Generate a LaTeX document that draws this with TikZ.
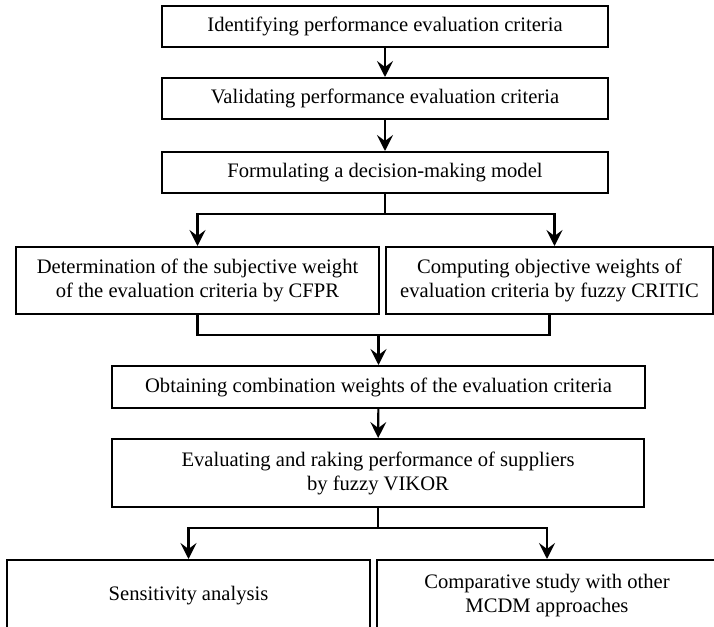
\documentclass[tikz,border=0pt]{standalone}
\usepackage{fontspec}
\setmainfont{Liberation Serif}
\usetikzlibrary{arrows.meta}

\begin{document}
\begin{tikzpicture}[
        x=0.5pt, y=-0.5pt,
        every node/.style={draw, line width=1pt, align=center, inner sep=0pt, font=\fontsize{10.3}{12}\selectfont},
        link/.style={line width=1.1pt},
        arr/.style={link, -{Stealth[length=8pt, width=8pt, inset=3pt]}}
    ]
        \clip (0,0) rectangle (714,627);
        \node[minimum width=223pt, minimum height=20.5pt] (ident) at (385,26.5) {Identifying performance evaluation criteria};
        \node[minimum width=223pt, minimum height=20.5pt] (valid) at (385,98.5) {Validating performance evaluation criteria};
        \node[minimum width=223pt, minimum height=20.5pt] (model) at (385,172.5) {Formulating a decision-making model};
        \node[minimum width=181.5pt, minimum height=33.5pt] (subj) at (197.5,280.5) {Determination of the subjective weight\\of the evaluation criteria by CFPR};
        \node[minimum width=163.5pt, minimum height=33.5pt] (obj) at (549.5,280.5) {Computing objective weights of\\evaluation criteria by fuzzy CRITIC};
        \node[minimum width=266.5pt, minimum height=21pt] (comb) at (378.5,387) {Obtaining combination weights of the evaluation criteria};
        \node[minimum width=266pt, minimum height=34pt] (vikor) at (378,473) {Evaluating and raking performance of suppliers\\by fuzzy VIKOR};
        \node[minimum width=181.5pt, minimum height=36pt] (sens) at (188.5,596) {Sensitivity analysis};
        \node[minimum width=170pt, minimum height=36pt] (comp) at (547,596) {Comparative study with other\\MCDM approaches};

        \coordinate (split1) at (model.south |- 0,214);
        \coordinate (join1) at (comb.north |- 0,335);
        \coordinate (split2) at (vikor.south |- 0,528);

        \draw[arr] (ident) -- (valid);
        \draw[arr] (valid) -- (model);
        \draw[link] (model.south) -- (split1);
        \draw[arr] (split1) -| (subj.north);
        \draw[arr] (split1) -| ([xshift=2.5pt]obj.north);
        \draw[link] (subj.south) |- (join1) -| (obj.south);
        \draw[arr] (join1) -- (comb.north);
        \draw[arr] (comb) -- (vikor);
        \draw[link] (vikor.south) -- (split2);
        \draw[arr] (split2) -| (sens.north);
        \draw[arr] (split2) -| (comp.north);
    \end{tikzpicture}
\end{document}
